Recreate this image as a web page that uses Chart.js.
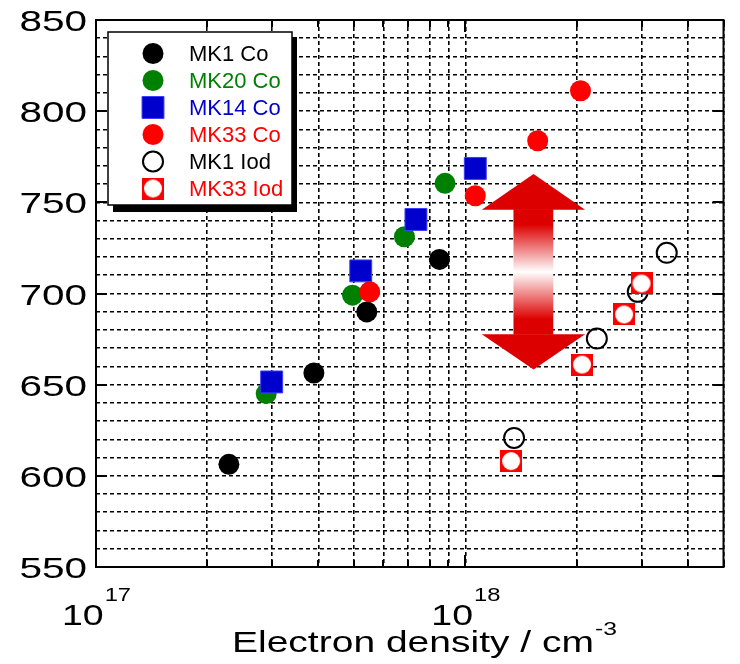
<!DOCTYPE html>
<html><head><meta charset="utf-8">
<script src="https://cdn.jsdelivr.net/npm/chart.js@4"></script>
<style>html,body{margin:0;padding:0;background:#fff}#wrap{width:740px;height:664px;position:relative}</style>
</head><body><div id="wrap"><canvas id="c" width="740" height="664"></canvas></div>
<script>
// ---- data ----
const seriesLabels = ['MK1 Co', 'MK20 Co', 'MK14 Co', 'MK33 Co', 'MK1 Iod', 'MK33 Iod'];
const mk1CoX  = [2.29e17, 3.89e17, 5.41e17, 8.51e17];
const mk1CoY  = [606.3, 656.4, 689.9, 718.7];
const mk20CoX = [2.89e17, 4.95e17, 6.84e17, 8.81e17];
const mk20CoY = [645.1, 699.1, 731.1, 760.4];
const mk14CoX = [2.99e17, 5.21e17, 7.35e17, 1.064e18];
const mk14CoY = [651.5, 712.4, 740.6, 768.6];
const mk33CoX = [5.51e17, 1.064e18, 1.57e18, 2.05e18];
const mk33CoY = [700.9, 753.6, 783.8, 811.2];
const mk1IodX = [1.355e18, 2.27e18, 2.93e18, 3.51e18];
const mk1IodY = [620.8, 675.3, 700.9, 722.3];
const mk33IodX = [1.33e18, 2.07e18, 2.69e18, 3.0e18];
const mk33IodY = [608.1, 661.0, 688.5, 705.5];

const xGridValues = [1e17, 2e17, 3e17, 4e17, 5e17, 6e17, 7e17, 8e17, 9e17, 1e18, 2e18, 3e18, 4e18, 5e18];
const xLabelExponents = [17, 18];
const yGridValues = [550,560,570,580,590,600,610,620,630,640,650,660,670,680,690,700,710,720,730,740,750,760,770,780,790,800,810,820,830,840,850];
const yTickLabels = [550, 600, 650, 700, 750, 800, 850];
const xTitle = 'Electron density / cm';
const xTitleSup = '-3';

// double-headed arrow annotation (data units)
const arrowX = 1.53e18;
const arrowTipTop = 765.5, arrowHeadBaseTop = 746.0;
const arrowTipBottom = 658.3, arrowHeadBaseBottom = 677.7;
const arrowHeadX = [1.108e18, 2.11e18];
const arrowShaftX = [1.35e18, 1.73e18];

function pts(xs, ys) { return xs.map((x, i) => ({x: x, y: ys[i]})); }

function makeIodMarker() {
  const c = document.createElement('canvas'); c.width = 22; c.height = 22;
  const g = c.getContext('2d');
  g.fillStyle = '#ff0000'; g.fillRect(0, 0, 22, 22);
  g.fillStyle = '#ffffff'; g.beginPath(); g.arc(11, 11, 9, 0, Math.PI * 2); g.fill();
  return c;
}
const iodMarker = makeIodMarker();

const textColors = ['#000000', '#008000', '#0000cc', '#ff0000', '#000000', '#ff0000'];

const datasets = [
  {label: seriesLabels[0], data: pts(mk1CoX, mk1CoY), pointStyle: 'circle', pointRadius: 10.5, backgroundColor: '#000000', borderColor: '#000000', borderWidth: 0, order: 6},
  {label: seriesLabels[1], data: pts(mk20CoX, mk20CoY), pointStyle: 'circle', pointRadius: 10.5, backgroundColor: '#008000', borderColor: '#008000', borderWidth: 0, order: 5},
  {label: seriesLabels[2], data: pts(mk14CoX, mk14CoY), pointStyle: 'rect', pointRadius: 15.5, backgroundColor: '#0000cc', borderColor: '#3c3cff', borderWidth: 1, order: 4},
  {label: seriesLabels[3], data: pts(mk33CoX, mk33CoY), pointStyle: 'circle', pointRadius: 10.5, backgroundColor: '#ff0000', borderColor: '#ff0000', borderWidth: 0, order: 3},
  {label: seriesLabels[4], data: pts(mk1IodX, mk1IodY), pointStyle: 'circle', pointRadius: 10, backgroundColor: 'rgba(255,255,255,0)', borderColor: '#000000', borderWidth: 2, order: 2},
  {label: seriesLabels[5], data: pts(mk33IodX, mk33IodY), pointStyle: iodMarker, pointRadius: 11, backgroundColor: '#ff0000', borderColor: '#ff0000', borderWidth: 0, order: 1}
];

const FONT = '"Liberation Sans", Arial, sans-serif';
function sText(ctx, text, x, y, size, sx, align, color) {
  ctx.save();
  ctx.font = size + 'px ' + FONT;
  ctx.fillStyle = color || '#000';
  ctx.textBaseline = 'alphabetic';
  ctx.textAlign = 'left';
  const w = ctx.measureText(text).width * sx;
  const left = align === 'right' ? x - w : (align === 'center' ? x - w / 2 : x);
  ctx.translate(left, y); ctx.scale(sx, 1);
  ctx.fillText(text, 0, 0);
  ctx.restore();
  return w;
}
function sWidth(ctx, text, size, sx) {
  ctx.save(); ctx.font = size + 'px ' + FONT; const w = ctx.measureText(text).width * sx; ctx.restore(); return w;
}

const decor = {
  id: 'decor',
  beforeDraw(chart) {
    const ctx = chart.ctx; ctx.save(); ctx.fillStyle = '#fff'; ctx.fillRect(0, 0, chart.width, chart.height); ctx.restore();
  },
  beforeDatasetsDraw(chart) {
    const ctx = chart.ctx, xs = chart.scales.x, ys = chart.scales.y;
    const cx = xs.getPixelForValue(arrowX);
    const tT = ys.getPixelForValue(arrowTipTop), hT = ys.getPixelForValue(arrowHeadBaseTop);
    const tB = ys.getPixelForValue(arrowTipBottom), hB = ys.getPixelForValue(arrowHeadBaseBottom);
    const hl = xs.getPixelForValue(arrowHeadX[0]), hr = xs.getPixelForValue(arrowHeadX[1]);
    const sl = xs.getPixelForValue(arrowShaftX[0]), sr = xs.getPixelForValue(arrowShaftX[1]);
    ctx.save();
    const red = '#dd0000';
    ctx.fillStyle = red;
    ctx.beginPath(); ctx.moveTo(cx, tT); ctx.lineTo(hr, hT); ctx.lineTo(hl, hT); ctx.closePath(); ctx.fill();
    ctx.beginPath(); ctx.moveTo(cx, tB); ctx.lineTo(hr, hB); ctx.lineTo(hl, hB); ctx.closePath(); ctx.fill();
    const g = ctx.createLinearGradient(0, hT, 0, hB);
    g.addColorStop(0, red); g.addColorStop(0.12, red); g.addColorStop(0.5, '#ffffff'); g.addColorStop(0.88, red); g.addColorStop(1, red);
    ctx.fillStyle = g;
    ctx.fillRect(sl, hT - 0.5, sr - sl, hB - hT + 1);
    ctx.restore();
  },
  afterDraw(chart) {
    const ctx = chart.ctx, a = chart.chartArea, xs = chart.scales.x, ys = chart.scales.y;
    ctx.save();
    // frame
    ctx.strokeStyle = '#000'; ctx.lineWidth = 2;
    ctx.strokeRect(a.left, a.top, a.right - a.left, a.bottom - a.top);
    // tick marks
    ctx.lineWidth = 2;
    ctx.beginPath();
    xGridValues.forEach(v => {
      const px = Math.round(xs.getPixelForValue(v));
      const major = Math.abs(Math.log10(v) - Math.round(Math.log10(v))) < 1e-9;
      const len = major ? 12 : 7;
      ctx.moveTo(px, a.bottom); ctx.lineTo(px, a.bottom - len);
      ctx.moveTo(px, a.top); ctx.lineTo(px, a.top + len);
    });
    yTickLabels.forEach(v => {
      const py = Math.round(ys.getPixelForValue(v));
      ctx.moveTo(a.left, py); ctx.lineTo(a.left + 11, py);
      ctx.moveTo(a.right, py); ctx.lineTo(a.right - 11, py);
    });
    ctx.stroke();

    // y tick labels
    yTickLabels.forEach(v => {
      const py = ys.getPixelForValue(v);
      sText(ctx, String(v), 87, py + 11, 30, 1.35, 'right', '#000');
    });
    // x tick labels 10^n
    xLabelExponents.forEach(e => {
      const px = xs.getPixelForValue(Math.pow(10, e));
      const wb = sWidth(ctx, '10', 30, 1.25), we = sWidth(ctx, String(e), 19, 1.25);
      const left = px - (wb + we) / 2;
      sText(ctx, '10', left, 625, 30, 1.25, 'left', '#000');
      sText(ctx, String(e), left + wb + 1, 601, 19, 1.25, 'left', '#000');
    });
    // axis title
    const wt = sWidth(ctx, xTitle, 30, 1.3), ws = sWidth(ctx, xTitleSup, 19, 1.3);
    const tl = 232;
    sText(ctx, xTitle, tl, 652, 30, 1.3, 'left', '#000');
    sText(ctx, xTitleSup, tl + wt + 1, 635, 19, 1.3, 'left', '#000');

    // legend box with shadow
    const L = 108, T = 32, R = 292, B = 205;
    ctx.fillStyle = '#000';
    ctx.fillRect(L + 5, T + 5, R - L, B - T + 2);
    ctx.fillStyle = '#fff';
    ctx.fillRect(L, T, R - L, B - T);
    ctx.strokeStyle = '#000'; ctx.lineWidth = 1.5;
    ctx.strokeRect(L, T, R - L, B - T);
    const rowY0 = 53.5, rowDy = 27;
    chart.data.datasets.forEach((ds, i) => {
      const y = rowY0 + i * rowDy, x = 153;
      ctx.save();
      ctx.fillStyle = ds.backgroundColor; ctx.strokeStyle = ds.borderColor; ctx.lineWidth = ds.borderWidth;
      if (typeof ds.pointStyle !== 'string') {
        ctx.drawImage(ds.pointStyle, x - ds.pointStyle.width / 2, y - ds.pointStyle.height / 2);
      } else if (ds.pointStyle === 'circle') {
        ctx.beginPath(); ctx.arc(x, y, ds.pointRadius, 0, Math.PI * 2);
        ctx.fill(); if (ds.borderWidth) ctx.stroke();
      } else {
        const s = ds.pointRadius * Math.SQRT1_2;
        ctx.beginPath(); ctx.rect(x - s, y - s, 2 * s, 2 * s); ctx.fill(); if (ds.borderWidth) ctx.stroke();
      }
      ctx.restore();
      ctx.save(); ctx.font = '22px ' + FONT; ctx.fillStyle = textColors[i]; ctx.textBaseline = 'middle';
      ctx.fillText(ds.label, 189, y + 1); ctx.restore();
    });
    ctx.restore();
  }
};

new Chart(document.getElementById('c'), {
  type: 'scatter',
  data: {datasets: datasets},
  options: {
    responsive: false, animation: false, devicePixelRatio: 1,
    layout: {padding: {left: 96, right: 9, top: 20, bottom: 97}},
    plugins: {legend: {display: false}, tooltip: {enabled: false}},
    scales: {
      x: {
        type: 'logarithmic', min: 1e17, max: 5e18,
        afterBuildTicks: s => { s.ticks = xGridValues.map(v => ({value: v})); },
        ticks: {display: false, autoSkip: false},
        grid: {color: '#000', lineWidth: 1.6, drawTicks: false},
        border: {display: false, dash: [4, 3]}
      },
      y: {
        type: 'linear', min: 550, max: 850,
        afterBuildTicks: s => { s.ticks = yGridValues.map(v => ({value: v})); },
        ticks: {display: false, autoSkip: false},
        grid: {color: '#000', lineWidth: 1.6, drawTicks: false},
        border: {display: false, dash: [4, 3]}
      }
    }
  },
  plugins: [decor]
});
</script>
</body></html>
